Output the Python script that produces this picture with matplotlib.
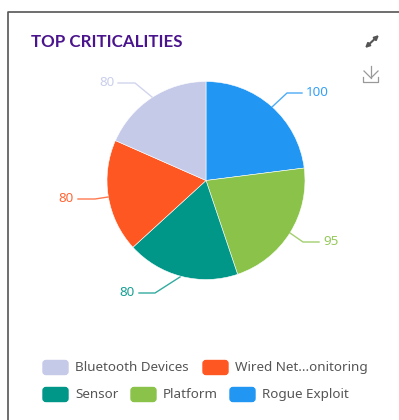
import matplotlib
matplotlib.use("Agg")
import matplotlib.pyplot as plt
from matplotlib.patches import FancyBboxPatch, Wedge

labels = ["Rogue Exploit", "Platform", "Sensor", "Wired Net...onitoring", "Bluetooth Devices"]
values = [100, 95, 80, 80, 80]
colors = ["#2196f3", "#8bc34a", "#009688", "#ff5722", "#c5cae9"]

title = "TOP CRITICALITIES"

plt.rcParams['font.family'] = ['Noto Sans', 'DejaVu Sans']

fig = plt.figure(figsize=(3.99, 4.20), dpi=100)
# whole figure in pixel coords, y going down like the reference
ax = fig.add_axes([0, 0, 1, 1])
ax.set_xlim(0, 399)
ax.set_ylim(420, 0)
ax.axis("off")

# card border, no right or bottom edge in view
ax.plot([8, 8, 399], [420, 12, 12], color="#555555", lw=1.2)

ax.text(31, 42, title, color="#4a148c", fontsize=12.2, fontweight="bold",
        family=["Lato", "DejaVu Sans"], va="center", ha="left")

# expand icon
ax.annotate("", xy=(379, 35), xytext=(365, 48),
            arrowprops=dict(arrowstyle="<|-|>", color="#555555", lw=1.5, mutation_scale=6,
                            shrinkA=0, shrinkB=0))

# download icon
ax.plot([371, 371], [66, 78], color="#999999", lw=0.9)
ax.plot([364, 371, 378], [71, 78, 71], color="#999999", lw=0.9)
ax.plot([363, 363, 378, 378], [77, 82, 82, 77], color="#999999", lw=0.9)

# pie, clockwise from 12 o'clock (y axis is flipped so angles run clockwise)
cx, cy, r = 206, 180.5, 99
total = sum(values)
start = -90
for v, c in zip(values, colors):
    sweep = 360 * v / total
    ax.add_patch(Wedge((cx, cy), r, start, start + sweep, facecolor=c,
                       edgecolor="white", lw=0.4))
    start += sweep

# leader lines and value labels
leader_x = [[272, 287, 302], [290, 303, 319], [180, 155, 139], [108, 95, 78], [152, 135, 118]]
leader_y = [[107, 93, 93], [233, 242, 242], [277, 293, 293], [197, 199, 199], [97, 83, 83]]
label_x = [306, 323, 135, 74, 115]
label_y = [92, 241.5, 293, 199, 82]
label_ha = ["left", "left", "right", "right", "right"]
for i in range(len(values)):
    ax.plot(leader_x[i], leader_y[i], color=colors[i], lw=1.0, alpha=0.8)
    ax.text(label_x[i], label_y[i], str(values[i]), color=colors[i], fontsize=9.7,
            va="center", ha=label_ha[i], alpha=0.9)

# legend, two rows
legend_order = [4, 3, 2, 1, 0]
legend_x = [42, 202, 42, 130, 229]
legend_y = [367.5, 367.5, 394.5, 394.5, 394.5]
for i, x, y in zip(legend_order, legend_x, legend_y):
    ax.add_patch(FancyBboxPatch((x + 1, y - 7), 25, 14, boxstyle="round,pad=0,rounding_size=3",
                                facecolor=colors[i], edgecolor=colors[i], lw=1))
    ax.text(x + 33, y, labels[i], color="#555555", fontsize=9.7, va="center", ha="left")

fig.savefig("out.png", dpi=100)
